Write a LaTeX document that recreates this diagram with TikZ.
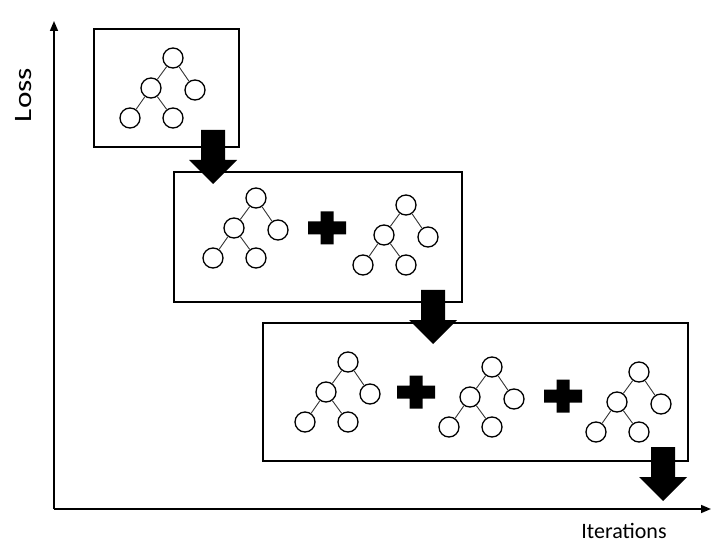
\documentclass[tikz,border=0pt]{standalone}
\usepackage{fontspec}
\setmainfont{Carlito}
\usetikzlibrary{arrows.meta}

\tikzset{
  leaf/.style={circle, draw, line width=1.3pt, minimum size=20pt, inner sep=0pt},
  branch/.style={line width=0.9pt, draw=black!80},
  stage/.style={draw, line width=1.9pt, inner sep=0pt},
  axis/.style={line width=1.6pt, -{Triangle[length=10pt, width=8pt]}},
  label/.style={font=\fontsize{22}{26}\selectfont},
  % a small tree of five nodes
  tree/.pic={
    \node[leaf] (-r) at (0,0) {};
    \node[leaf] (-a) at (-22,30) {};
    \node[leaf] (-b) at (22,32) {};
    \node[leaf] (-c) at (-43,60) {};
    \node[leaf] (-d) at (0,60) {};
    \path[branch] (-r) edge (-a) (-r) edge (-b) (-a) edge (-c) (-a) edge (-d);
  },
  plus/.pic={
    \fill (-6.5,-16.5) -- (6.5,-16.5) -- (6.5,-6.5) -- (19,-6.5) -- (19,6.5) -- (6.5,6.5)
      -- (6.5,16.5) -- (-6.5,16.5) -- (-6.5,6.5) -- (-19,6.5) -- (-19,-6.5) -- (-6.5,-6.5) -- cycle;
  },
  down/.pic={
    \fill (-12,0) -- (12,0) -- (12,30) -- (24,30) -- (0,54) -- (-24,30) -- (-12,30) -- cycle;
  }
}

\begin{document}
\begin{tikzpicture}[x=1pt, y=-1pt]
  \useasboundingbox (0,0) rectangle (712,545);

  % axes
  \coordinate (o) at (54,509);
  \coordinate (ytip) at (54,21);
  \coordinate (xtip) at (711,509);
  \draw[axis] (o) -- (ytip);
  \draw[axis] (o) -- (xtip);
  \node[label, font=\fontsize{25}{28}\selectfont, rotate=90, xscale=1.25] (loss) at (24,95) {Loss};
  \node[label] (iter) at (624,531) {Iterations};

  % boosting stages
  \node[stage, minimum width=145pt, minimum height=118pt] (box1) at (166.5,88) {};
  \node[stage, minimum width=288pt, minimum height=130pt] (box2) at (318,237) {};
  \node[stage, minimum width=425pt, minimum height=138pt] (box3) at (475.5,392) {};

  \pic (t1) at (173,58) {tree};

  \pic (t2a) at (256,198) {tree};
  \pic at (327,228) {plus};
  \pic (t2b) at (406,205) {tree};

  \pic (t3a) at (348,362) {tree};
  \pic at (416,392) {plus};
  \pic (t3b) at (492,367) {tree};
  \pic at (563,396) {plus};
  \pic (t3c) at (639,372) {tree};

  \pic at (213,130) {down};
  \pic at (433,290) {down};
  \pic at (663,447) {down};
\end{tikzpicture}
\end{document}
